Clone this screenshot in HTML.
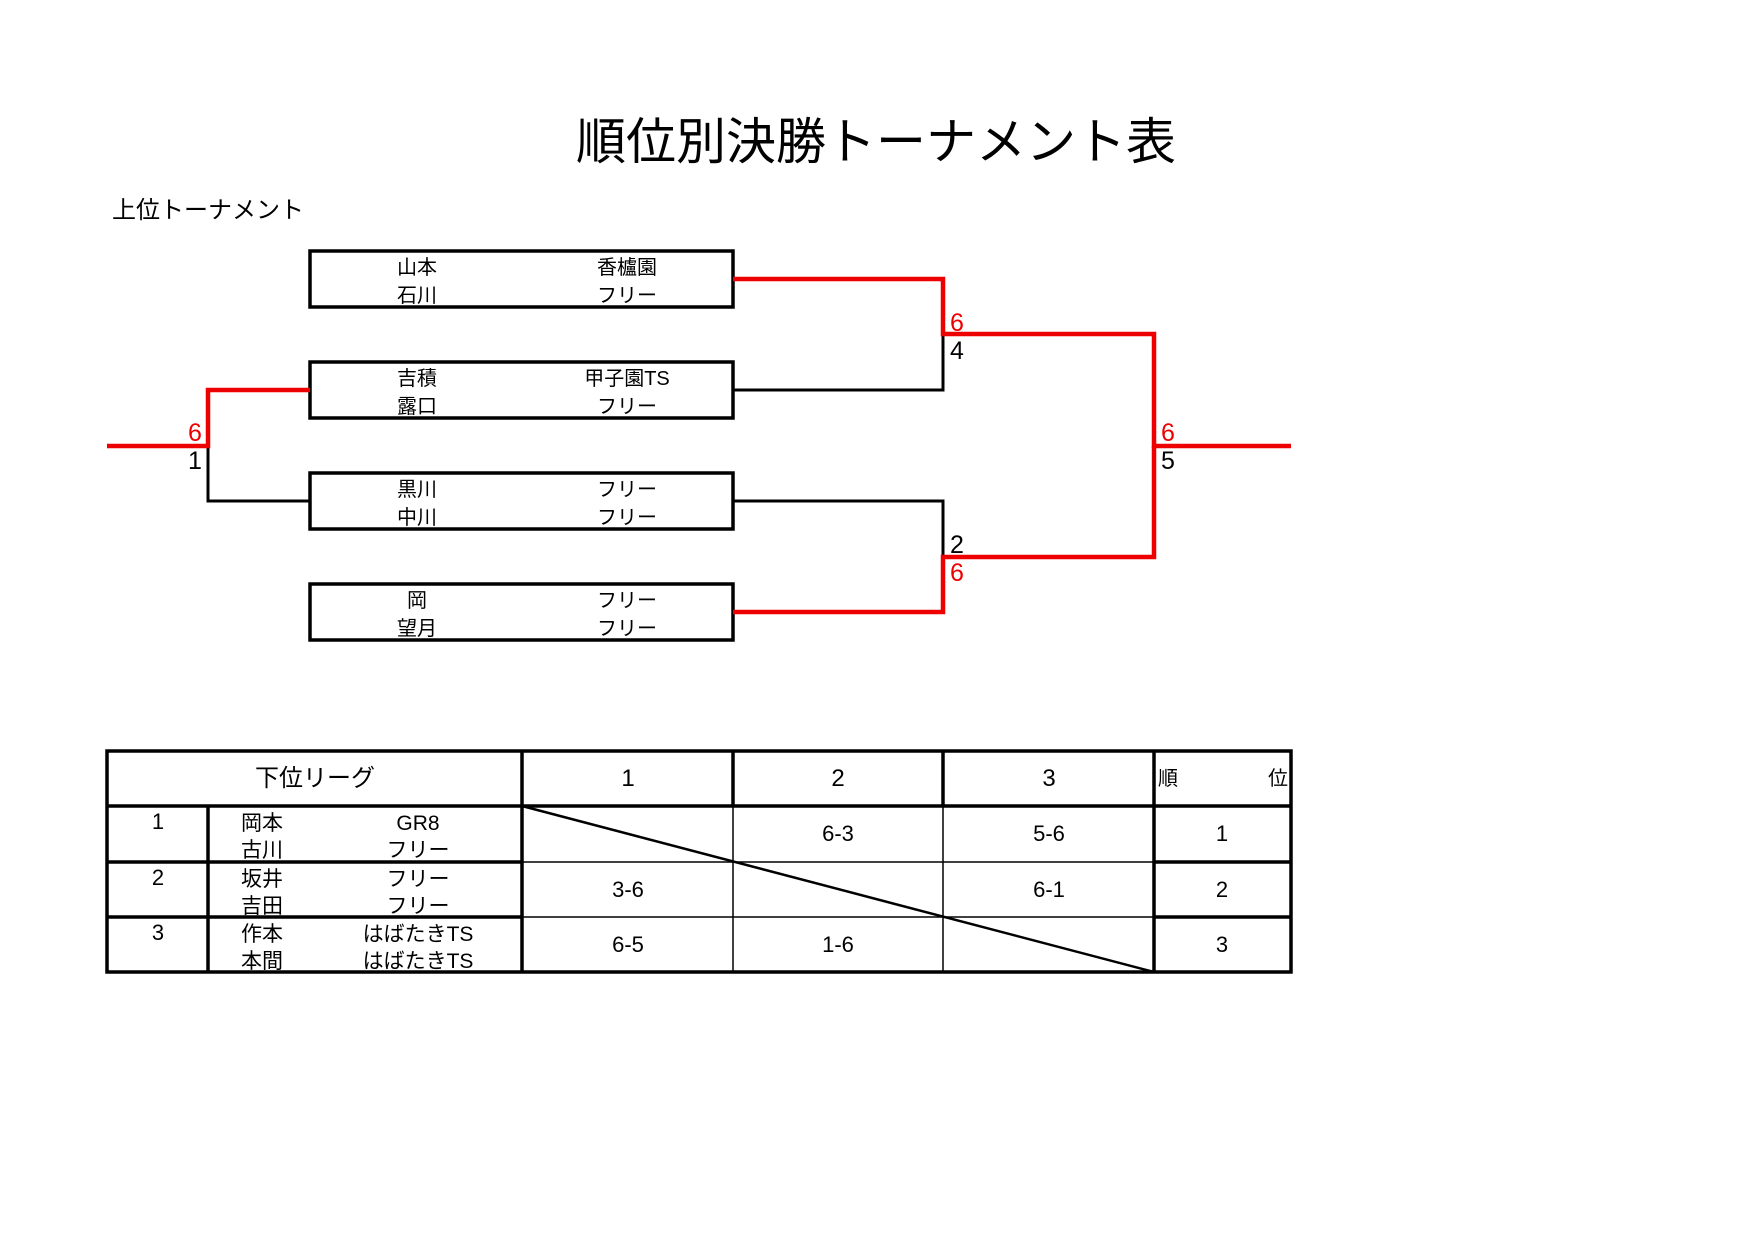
<!DOCTYPE html>
<html><head><meta charset="utf-8"><style>
html,body{margin:0;padding:0;background:#fff;}
svg{display:block;}
text{font-family:"Liberation Sans","Noto Sans CJK JP",sans-serif;}
</style></head><body>
<svg width="1755" height="1241" viewBox="0 0 1755 1241" xmlns="http://www.w3.org/2000/svg">
<text x="876" y="159" font-size="50" text-anchor="middle">順位別決勝トーナメント表</text>
<text x="112" y="218" font-size="24">上位トーナメント</text>

<g fill="none" stroke="#000" stroke-width="3.5">
<rect x="310" y="251" width="423" height="56"/>
<rect x="310" y="362" width="423" height="56"/>
<rect x="310" y="473" width="423" height="56"/>
<rect x="310" y="584" width="423" height="56"/>
</g>
<g font-size="20" text-anchor="middle">
<text x="417" y="274">山本</text><text x="627" y="274">香櫨園</text>
<text x="417" y="302">石川</text><text x="627" y="302">フリー</text>
<text x="417" y="385">吉積</text><text x="627" y="385">甲子園TS</text>
<text x="417" y="413">露口</text><text x="627" y="413">フリー</text>
<text x="417" y="496">黒川</text><text x="627" y="496">フリー</text>
<text x="417" y="524">中川</text><text x="627" y="524">フリー</text>
<text x="417" y="607">岡</text><text x="627" y="607">フリー</text>
<text x="417" y="635">望月</text><text x="627" y="635">フリー</text>
</g>

<g fill="none" stroke="#000" stroke-width="3">
<polyline points="208,446 208,501 310,501"/>
<polyline points="733,390 943,390 943,334"/>
<polyline points="733,501 943,501 943,557"/>
<polyline points="1154,446 1154,557"/>
</g>
<g fill="none" stroke="#e00" stroke-width="4.5">
<polyline points="107,446 208,446 208,390 310,390"/>
<polyline points="733,279 943,279 943,334 1154,334 1154,446 1291,446"/>
<polyline points="733,612 943,612 943,557 1154,557 1154,446"/>
</g>
<g font-size="25" text-anchor="middle">
<text x="195" y="441" fill="#e00">6</text><text x="195" y="469">1</text>
<text x="957" y="331" fill="#e00">6</text><text x="957" y="359">4</text>
<text x="957" y="553">2</text><text x="957" y="581" fill="#e00">6</text>
<text x="1168" y="441" fill="#e00">6</text><text x="1168" y="469">5</text>
</g>

<g stroke="#000" fill="none">
<line x1="522" y1="862" x2="1154" y2="862" stroke-width="1.5"/>
<line x1="522" y1="917" x2="1154" y2="917" stroke-width="1.5"/>
<line x1="733" y1="806" x2="733" y2="972" stroke-width="1.5"/>
<line x1="943" y1="806" x2="943" y2="972" stroke-width="1.5"/>
<line x1="522" y1="806" x2="1154" y2="972" stroke-width="2.5"/>
<g stroke-width="3.5">
<rect x="107" y="751" width="1184" height="221"/>
<line x1="107" y1="806" x2="1291" y2="806"/>
<line x1="107" y1="862" x2="522" y2="862"/>
<line x1="107" y1="917" x2="522" y2="917"/>
<line x1="1154" y1="862" x2="1291" y2="862"/>
<line x1="1154" y1="917" x2="1291" y2="917"/>
<line x1="208" y1="806" x2="208" y2="972"/>
<line x1="522" y1="751" x2="522" y2="972"/>
<line x1="733" y1="751" x2="733" y2="806"/>
<line x1="943" y1="751" x2="943" y2="806"/>
<line x1="1154" y1="751" x2="1154" y2="972"/>
</g>
</g>
<g font-size="24" text-anchor="middle">
<text x="315" y="786">下位リーグ</text>
<text x="628" y="786">1</text><text x="838" y="786">2</text><text x="1049" y="786">3</text>
</g>
<text x="1158" y="785" font-size="20">順</text>
<text x="1288" y="785" font-size="20" text-anchor="end">位</text>
<g font-size="22" text-anchor="middle">
<text x="158" y="829">1</text><text x="158" y="885">2</text><text x="158" y="940">3</text>
<text x="838" y="841">6-3</text><text x="1049" y="841">5-6</text><text x="1222" y="841">1</text>
<text x="628" y="897">3-6</text><text x="1049" y="897">6-1</text><text x="1222" y="897">2</text>
<text x="628" y="952">6-5</text><text x="838" y="952">1-6</text><text x="1222" y="952">3</text>
</g>
<g font-size="21">
<text x="241" y="830">岡本</text><text x="241" y="857">古川</text>
<text x="241" y="886">坂井</text><text x="241" y="913">吉田</text>
<text x="241" y="941">作本</text><text x="241" y="968">本間</text>
</g>
<g font-size="21" text-anchor="middle">
<text x="418" y="830">GR8</text><text x="418" y="857">フリー</text>
<text x="418" y="886">フリー</text><text x="418" y="913">フリー</text>
<text x="418" y="941">はばたきTS</text><text x="418" y="968">はばたきTS</text>
</g>
</svg>
</body></html>
